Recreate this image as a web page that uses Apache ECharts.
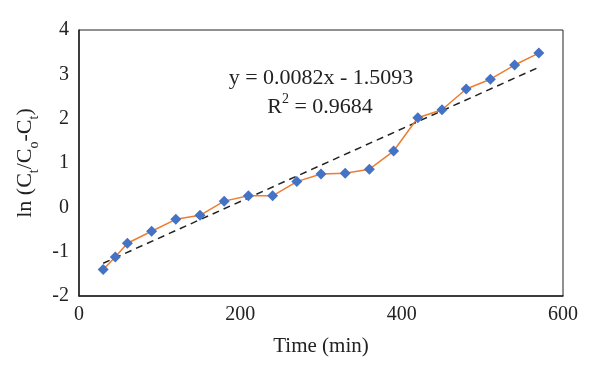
<!DOCTYPE html>
<html>
<head>
<meta charset="utf-8">
<script src="https://cdn.jsdelivr.net/npm/echarts@6/dist/echarts.min.js"></script>
<style>
  html, body { margin: 0; padding: 0; background: #fff; }
  #chart { width: 600px; height: 377px; }
</style>
</head>
<body>
<div id="chart"></div>
<script>
// 时间 (min)
const times = [30, 45, 60, 90, 120, 150, 180, 210, 240, 270, 300, 330, 360, 390, 420, 450, 480, 510, 540, 570]
// ln(Ct/(Co-Ct))
const lnValues = [-1.40, -1.12, -0.81, -0.54, -0.27, -0.18, 0.14, 0.26, 0.26, 0.58,
  0.75, 0.77, 0.86, 1.27, 2.02, 2.20, 2.67, 2.89, 3.21, 3.48]
// 趋势线端点
const trendPoints = [[30, -1.26], [570, 3.16]]
const equationText = 'y = 0.0082x - 1.5093'
const r2Text = '0.9684'

const font = '"Liberation Serif", "DejaVu Serif", serif'

let myChart = echarts.init(document.getElementById('chart'))

let option = {
  animation: false,
  textStyle: { fontFamily: font },
  grid: {
    left: 79, right: 37, top: 30, bottom: 81,
    show: true,
    borderColor: '#222',
    borderWidth: 1,
  },
  xAxis: {
    type: 'value',
    min: 0, max: 600, interval: 200,
    name: 'Time (min)',
    nameLocation: 'middle',
    nameGap: 40,
    nameTextStyle: { fontFamily: font, fontSize: 21, color: '#222' },
    axisLine: { show: true, onZero: false, lineStyle: { color: '#222', width: 1.5 } },
    axisTick: { show: false },
    splitLine: { show: false },
    axisLabel: { fontFamily: font, fontSize: 20, color: '#222', margin: 9 },
  },
  yAxis: {
    type: 'value',
    min: -2, max: 4, interval: 1,
    name: '{m|ln (C}{s|t}{m|/C}{s|o}{m|-C}{s|t}{m|)}',
    nameLocation: 'middle',
    nameGap: 36,
    nameRotate: 90,
    nameTextStyle: {
      rich: {
        m: { fontFamily: font, fontSize: 22, color: '#222', lineHeight: 28, verticalAlign: 'bottom' },
        s: { fontFamily: font, fontSize: 14, color: '#222', lineHeight: 28, verticalAlign: 'bottom', padding: [0, 0, -5, 0] },
      },
    },
    axisLine: { show: true, onZero: false, lineStyle: { color: '#222', width: 1.5 } },
    axisTick: { show: false },
    splitLine: { show: false },
    axisLabel: { fontFamily: font, fontSize: 20, color: '#222', margin: 10 },
  },
  graphic: [
    {
      type: 'text',
      x: 321, y: 67,
      style: {
        text: equationText,
        textAlign: 'center',
        fontFamily: font, fontSize: 22, fill: '#222',
      },
    },
    {
      type: 'text',
      x: 320, y: 92,
      style: {
        text: '{m|R}{p|2}{m| = ' + r2Text + '}',
        textAlign: 'center',
        rich: {
          m: { fontFamily: font, fontSize: 22, fill: '#222', lineHeight: 26, verticalAlign: 'bottom' },
          p: { fontFamily: font, fontSize: 14, fill: '#222', lineHeight: 26, verticalAlign: 'top' },
        },
      },
    },
  ],
  series: [
    {
      name: 'trend',
      type: 'line',
      data: trendPoints,
      symbol: 'none',
      lineStyle: { color: '#222', width: 1.5, type: [7, 5] },
      z: 2,
    },
    {
      name: 'data',
      type: 'line',
      data: times.map((t, i) => [t, lnValues[i]]),
      symbol: 'diamond',
      symbolSize: 11,
      lineStyle: { color: '#ED7D31', width: 1.5 },
      itemStyle: { color: '#4472C4' },
      z: 3,
    },
  ],
}

myChart.setOption(option)
</script>
</body>
</html>
